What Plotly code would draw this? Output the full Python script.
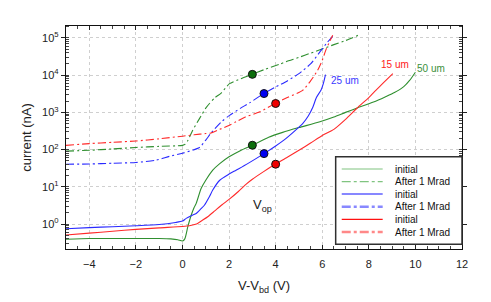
import plotly.graph_objects as go

# ---------------- data ----------------
# 50 um, initial
x_50_init = [-5, -4, -3, -2, -1, -0.5, -0.2, 0, 0.1, 0.23, 0.37, 0.5, 0.59, 0.8, 1.0, 1.3, 1.6, 2.0,
             2.5, 3.0, 3.7, 4.3, 5.0, 5.9, 6.5, 7.0, 7.5, 8.2, 8.7, 9.1, 9.5, 9.75, 10.0]
y_50_init = [0.39, 0.41, 0.41, 0.41, 0.41, 0.40, 0.38, 0.35, 0.40, 0.85, 1.7, 2.8, 3.6, 9, 15, 28, 42, 64,
             95, 131, 215, 290, 390, 560, 750, 1000, 1310, 1900, 2600, 3400, 4900, 7200, 12000]
# 50 um, after 1 Mrad
x_50_irr = [-5, -4, -3, -2, -1, 0, 0.12, 0.23, 0.44, 0.73, 1.0, 1.16, 1.4, 1.66, 2.02, 2.5, 2.98,
            3.5, 4.16, 4.45, 5.0, 5.5, 6.02, 6.5, 7.0, 7.53]
y_50_irr = [91, 96, 104, 114, 122, 130, 140, 175, 330, 680, 1300, 1730, 2500, 3300, 5900, 8000, 10500,
            14000, 19500, 23000, 30000, 39000, 51000, 66000, 85000, 117000]

# 25 um, initial
x_25_init = [-5, -4, -3, -2, -1, -0.3, 0, 0.16, 0.4, 0.59, 0.8, 0.94, 1.16, 1.3, 1.6, 2.0, 2.3, 2.8,
             3.5, 4.0, 4.45, 5.0, 5.16, 5.4, 5.6, 5.75, 5.95, 6.05, 6.14]
y_25_init = [0.75, 0.8, 0.85, 0.9, 0.97, 1.1, 1.2, 1.42, 1.7, 1.93, 2.6, 3.2, 5.5, 8.2, 15, 22, 28, 42,
             78, 125, 200, 400, 500, 800, 1400, 2500, 4000, 6000, 10300]
# 25 um, after 1 Mrad
x_25_irr = [-5, -4, -3, -2, -1.13, -0.56, 0, 0.73, 1.0, 1.23, 1.66, 2.02, 2.5, 2.88, 3.49, 4.0, 4.5,
            5.0, 5.5, 5.9, 6.17, 6.45]
y_25_irr = [40.5, 41, 43, 45, 52, 66, 80, 114, 180, 280, 550, 830, 1300, 1800, 3200, 4800, 7000,
            11000, 20000, 42000, 70000, 110000]

# 15 um, initial
x_15_init = [-5, -4, -3, -2, -1, 0, 0.3, 0.6, 0.87, 1.1, 1.4, 1.7, 2.0, 2.4, 2.75, 3.0, 3.5, 3.98,
             4.5, 5.0, 5.5, 6.0, 6.5, 7.0, 7.5, 8.0, 8.3, 8.6, 9.03]
y_15_init = [0.51, 0.57, 0.64, 0.72, 0.79, 0.86, 0.9, 1.0, 1.28, 1.6, 2.3, 3.3, 4.6, 7.5, 12, 16, 26, 40.5,
             62, 96, 150, 240, 350, 650, 1310, 2500, 3900, 6000, 11000]
# 15 um, after 1 Mrad
x_15_irr = [-5, -4, -3, -2, -1, 0, 0.5, 1.0, 1.23, 1.6, 2.02, 2.3, 2.7, 3.3, 3.98, 4.5, 5.16, 5.5,
            5.8, 6.0, 6.17, 6.38, 6.45]
y_15_irr = [130, 145, 157, 170, 195, 229, 250, 270, 280, 350, 450, 560, 750, 1020, 1730, 2500, 3900, 7000,
            13400, 25000, 50000, 96000, 117000]

# operating points (V_op)
vop_x = [3.0, 3.5, 4.0]
vop_init = [131, 78, 40.5]
vop_irr = [10500, 3200, 1730]
vop_colors = ["#0b6e0b", "#0000f0", "#f00000"]

x_ticks = [-4, -2, 0, 2, 4, 6, 8, 10, 12]
y_ticks = [1, 10, 100, 1000, 10000, 100000]
y_ticktext = ["10<sup>0</sup>", "10<sup>1</sup>", "10<sup>2</sup>", "10<sup>3</sup>",
              "10<sup>4</sup>", "10<sup>5</sup>"]

legend_labels = ["initial", "After 1 Mrad", "initial", "After 1 Mrad", "initial", "After 1 Mrad"]

# ---------------- figure ----------------
GREEN = "#2f8f2f"
BLUE = "#2a2aff"
RED = "#ff2a2a"
DASHDOT = "8px,3px,2px,3px"

fig = go.Figure()


def add_line(x, y, color, dash, width=1.1, name=""):
    fig.add_trace(go.Scatter(x=x, y=y, mode="lines", name=name, showlegend=False,
                             line=dict(color=color, width=width, dash=dash, shape="spline",
                                       smoothing=0.6)))


add_line(x_50_init, y_50_init, GREEN, "solid", name="50 um initial")
add_line(x_50_irr, y_50_irr, GREEN, DASHDOT, name="50 um after 1 Mrad")
add_line(x_25_init, y_25_init, BLUE, "solid", name="25 um initial")
add_line(x_25_irr, y_25_irr, BLUE, DASHDOT, name="25 um after 1 Mrad")
add_line(x_15_init, y_15_init, RED, "solid", name="15 um initial")
add_line(x_15_irr, y_15_irr, RED, DASHDOT, name="15 um after 1 Mrad")

for yy in (vop_init, vop_irr):
    fig.add_trace(go.Scatter(x=vop_x, y=yy, mode="markers", showlegend=False,
                             marker=dict(size=8, color=vop_colors,
                                         line=dict(color="#111111", width=1))))

FONT = "Liberation Sans, Arial, sans-serif"

# text labels on the curves
fig.add_annotation(x=9.13, y=4.29, text="15 um", showarrow=False,
                   font=dict(color="#ff2020", size=10, family=FONT))
fig.add_annotation(x=10.67, y=4.19, text="50 um", showarrow=False,
                   font=dict(color="#3a8f3a", size=10, family=FONT))
fig.add_annotation(x=6.99, y=3.86, text="25 um", showarrow=False,
                   font=dict(color="#3a3aff", size=10, family=FONT))
fig.add_annotation(x=3.45, y=0.5, text="V<sub>op</sub>", showarrow=False,
                   font=dict(color="#222222", size=13, family=FONT))

# hand-drawn legend (compact, like the reference)
leg_x0, leg_x1, leg_y0, leg_y1 = 0.681, 1.0, 0.021, 0.414
fig.add_shape(type="rect", xref="paper", yref="paper", x0=leg_x0, x1=leg_x1, y0=leg_y0, y1=leg_y1,
              line=dict(color="#303030", width=1.5), fillcolor="white", layer="above")
leg_rows = [0.3587, 0.3018, 0.2466, 0.1897, 0.1332, 0.0762]
leg_styles = [("#80c480", "solid", 1.2), ("#80c480", "dashdot", 1.2),
              ("#1010ff", "solid", 1.2), ("#8888ff", "dashdot", 2.4),
              ("#ff1010", "solid", 1.2), ("#ff8888", "dashdot", 2.4)]
for yr, (col, dsh, w), lab in zip(leg_rows, leg_styles, legend_labels):
    fig.add_shape(type="line", xref="paper", yref="paper", x0=0.6963, x1=0.7997, y0=yr, y1=yr,
                  line=dict(color=col, width=w, dash=dsh), layer="above")
    fig.add_annotation(xref="paper", yref="paper", x=0.825, y=yr, xanchor="left", yanchor="middle",
                       text=lab, showarrow=False, font=dict(size=10, color="#111111", family=FONT))

# the page body has an 8px default margin, so the figure sits 8px right/down:
# margins are shifted by that amount to keep the plot area at the reference position
fig.update_layout(
    width=491, height=302,
    margin=dict(l=58, r=37, t=18, b=61),
    paper_bgcolor="white", plot_bgcolor="white",
    font=dict(family=FONT, color="#222222", size=11),
    showlegend=False,
)

fig.update_xaxes(
    range=[-5, 12], tickvals=x_ticks, ticks="inside", ticklen=4, tickcolor="#222",
    showline=True, linecolor="#111111", linewidth=1.3, mirror="ticks",
    showgrid=True, gridcolor="#cfcfcf", griddash="dot", gridwidth=1, zeroline=False,
    minor=dict(dtick=0.5, ticks="inside", ticklen=2.5, tickcolor="#444", showgrid=False),
    tickfont=dict(size=11), ticklabelstandoff=5,
    title=dict(text="V-V<sub>bd</sub> (V)", font=dict(size=13), standoff=11),
)
fig.update_yaxes(
    type="log", range=[-0.67, 5.32], tickvals=y_ticks, ticktext=y_ticktext,
    ticks="outside", ticklen=4, tickcolor="#222",
    showline=True, linecolor="#111111", linewidth=1.3, mirror="ticks",
    showgrid=True, gridcolor="#cfcfcf", griddash="dot", gridwidth=1, zeroline=False,
    minor=dict(dtick="D1", ticks="inside", ticklen=2.5, tickcolor="#444", showgrid=False),
    tickfont=dict(size=11),
    title=dict(text="current (nA)", font=dict(size=13), standoff=7),
)

fig.write_html("out.html")
